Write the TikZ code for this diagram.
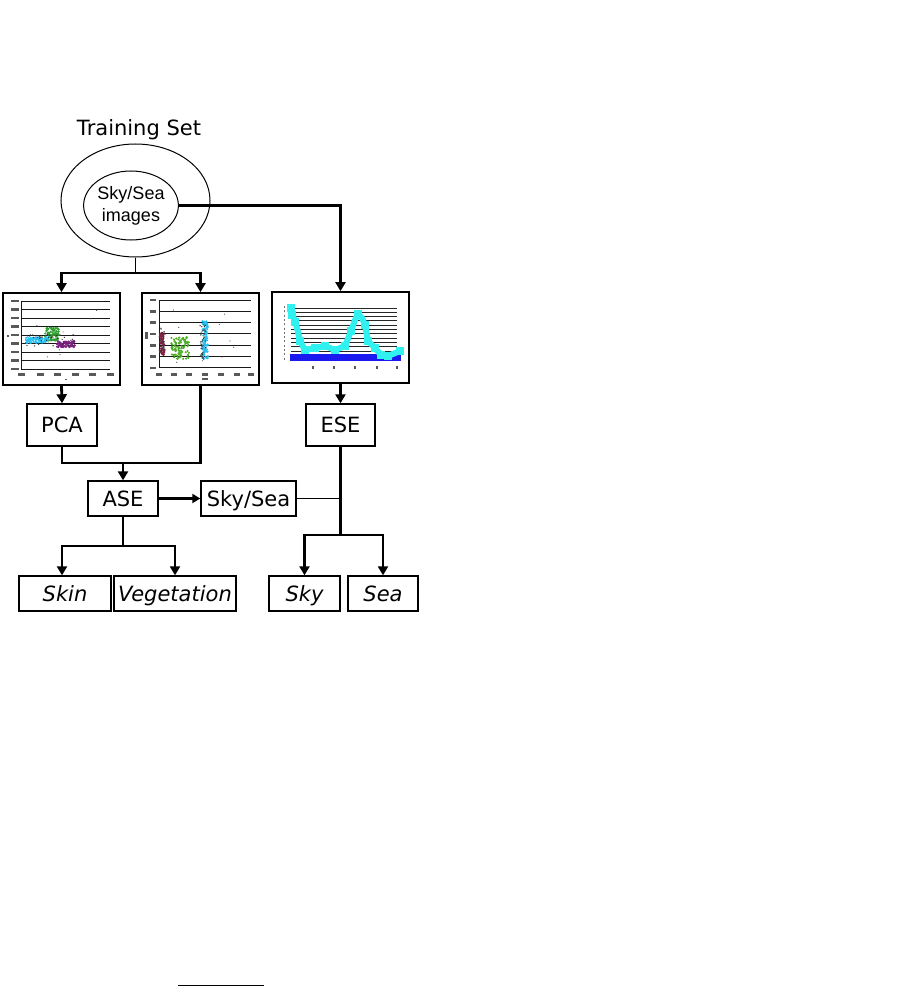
\documentclass[tikz,border=0pt]{standalone}
\usepackage{fontspec}
\setmainfont{DejaVu Sans}
\newfontfamily\arialfont{Liberation Sans}
\usetikzlibrary{arrows.meta,shapes.geometric}
\definecolor{cyanplot}{HTML}{30F0F0}
\definecolor{blueplot}{HTML}{1A1AF0}
\definecolor{greenplot}{HTML}{2E9E2E}
\definecolor{purpleplot}{HTML}{7A2080}
\definecolor{maroonplot}{HTML}{802040}
\tikzset{
  box/.style={draw, line width=1.4pt, rectangle, inner sep=0pt, text height=15pt, text depth=0pt,
              font=\fontsize{21}{25}\selectfont},
  itbox/.style={box, font=\fontsize{21}{25}\selectfont\itshape},
  chartbox/.style={draw, line width=1.7pt, rectangle, inner sep=0pt},
  thk/.style={line width=2.8pt},
  thn/.style={line width=1pt},
  arr/.style={-{Triangle[width=10pt,length=9pt]}},
  gridln/.style={line width=1pt, black!90},
  dot/.style={},
}
\begin{document}
\begin{tikzpicture}[x=1pt,y=-1pt]
\useasboundingbox (0,0) rectangle (915,987);
\fill[white] (0,0) rectangle (915,987);

% title and ellipses
\node[font=\fontsize{21}{25}\selectfont] (title) at (139,130) {Training Set};
\node[ellipse, draw, thn, minimum width=149pt, minimum height=113pt, inner sep=0pt] (outer) at (135.5,200.5) {};
\node[ellipse, draw, thn, minimum width=86pt, minimum height=69pt, inner sep=0pt, align=center,
      font=\arialfont\fontsize{18}{22}\selectfont] (inner) at (131,205.5) {Sky/Sea\\images};

% chart boxes
\node[chartbox, minimum width=117pt, minimum height=92pt] (chartA) at (61.5,339) {};
\node[chartbox, minimum width=117pt, minimum height=92pt] (chartB) at (200.5,339) {};
\node[chartbox, minimum width=137pt, minimum height=91pt] (chartC) at (340.5,337.5) {};

% text boxes
\node[box, minimum width=70pt, minimum height=42pt] (PCA) at (62,425) {PCA};
\node[box, minimum width=69pt, minimum height=42pt] (ESE) at (340.5,425) {ESE};
\node[box, minimum width=70pt, minimum height=35pt] (ASE) at (123,498.5) {ASE};
\node[box, minimum width=95pt, minimum height=35pt] (SS) at (248.5,498.5) {Sky/Sea};
\node[itbox, minimum width=92pt, minimum height=35pt] (Skin) at (65,593.5) {Skin};
\node[itbox, minimum width=122pt, minimum height=35pt] (Veg) at (175,593.5) {Vegetation};
\node[itbox, minimum width=71pt, minimum height=35pt] (Sky) at (304.5,593.5) {Sky};
\node[itbox, minimum width=70pt, minimum height=35pt] (Sea) at (383,593.5) {Sea};

% ---------- chart A contents ----------
\foreach \k in {0,...,8} {\draw[gridln] (21,{301+\k*8.5}) -- (110,{301+\k*8.5});
  \fill[black!65] (11,{301+\k*8.5-1.2}) rectangle (19,{301+\k*8.5+1.2});}
\draw[gridln] (21,301) -- (21,369);
\foreach \x in {21,40,57,75,92,110} {\fill[black!65] (\x-3.5,373) rectangle (\x+3.5,375.5);}
\fill[black!65] (65,378.5) rectangle (67,380);
\fill[black!65] (7,335) rectangle (9,336.5);
\pgfmathsetseed{17}
\foreach \i in {1,...,90} {\fill[greenplot] ({52+7*rand},{334+6.5*rand}) circle (1.2);}
\foreach \i in {1,...,80} {\fill[cyanplot!80!blue] ({37+12*rand},{340+3*rand}) circle (1.2);}
\foreach \i in {1,...,70} {\fill[purpleplot] ({66+9*rand},{344+3.2*rand}) circle (1.2);}
\foreach \i in {1,...,40} {\fill[black!80] ({50+25*rand},{340+6*rand}) circle (0.7);}
\foreach \i in {1,...,8} {\fill[black!70] ({65+40*rand},{335+25*rand}) circle (0.6);}

% ---------- chart B contents ----------
\foreach \k in {0,...,6} {\draw[gridln] (159,{300+\k*11.33}) -- (251,{300+\k*11.33});
  \fill[black!65] (150,{300+\k*11.33-1.2}) rectangle (156,{300+\k*11.33+1.2});}
\draw[gridln] (159,300) -- (159,368);
\foreach \x in {159,174,189,205,221,237,251} {\fill[black!65] (\x-3,373) rectangle (\x+3,375.5);}
\fill[black!65] (202,378) rectangle (208,380);
\fill[black!65] (145,332) rectangle (147.5,339);
\pgfmathsetseed{29}
\foreach \i in {1,...,60} {\fill[maroonplot] ({162+2.5*rand},{344+11*rand}) circle (1.2);}
\foreach \i in {1,...,90} {\fill[greenplot!85!yellow] ({180+9*rand},{348+11*rand}) circle (1.2);}
\foreach \i in {1,...,90} {\fill[cyanplot!80!blue] ({205+2.8*rand},{340+19*rand}) circle (1.2);}
\foreach \i in {1,...,40} {\fill[black!80] ({203+3*rand},{342+17*rand}) circle (0.7);}
\foreach \i in {1,...,20} {\fill[black!80] ({162+3*rand},{340+12*rand}) circle (0.7);}
\foreach \i in {1,...,10} {\fill[black!70] ({205+45*rand},{335+30*rand}) circle (0.6);}

% ---------- chart C contents ----------
\foreach \k in {0,...,12} {\draw[line width=0.9pt, black!85] (291,{308+\k*4.3}) -- (397,{308+\k*4.3});}
\foreach \k in {0,...,12} {\fill[black!55] (283.5,{306+\k*4.3}) rectangle (285,{308+\k*4.3});}
\fill[blueplot] (290,354) rectangle (401,361);
\draw[cyanplot, line width=6pt, line join=round]
  (291,308) -- (292,314) -- (295,321) -- (298,332) -- (300,341) -- (305,350) -- (315,348)
  -- (325,346) -- (335,350) -- (345,346) -- (351,331) -- (355,320) -- (358,314) -- (362,318)
  -- (365,325) -- (368,341) -- (375,348) -- (381,355) -- (388,356) -- (400,351);
\foreach \p in {(291,308),(292,315),(295,322),(300,341),(305,350),(315,348),(325,346),(335,350),(345,346),
  (351,331),(358,314),(365,325),(368,341),(375,348),(381,355),(388,356),(400,351)}
  {\fill[cyanplot] \p ++(-4,-4) rectangle ++(8,8);}
\foreach \x in {313,334,355,377,397} {\fill[black!65] (\x-0.8,366) rectangle (\x+0.8,368.5);}

% ---------- connectors ----------
\draw[thk, arr] (inner.east) -| (chartC.north);
\coordinate (s1) at (135.5,273);
\draw[thn] (outer.south) -- (s1);
\draw[thk, arr] (s1) -| (chartA.north);
\draw[thk, arr] (s1) -| (chartB.north);
\draw[thk, arr] (chartA.south) -- (PCA.north);
\draw[thk, arr] (chartC.south) -- (ESE.north);
\coordinate (m1) at (123,463);
\draw[thk] (PCA.south) |- (m1);
\draw[thk] (chartB.south) |- (m1);
\draw[thk, arr] (m1) -- (ASE.north);
\draw[line width=2.2pt, -{Triangle[width=9pt,length=8pt]}] (ASE.east) -- (SS.west);
\draw[thn] (SS.east) -- (340.5,498.5);
\coordinate (m2) at (340.5,535);
\draw[thk] (ESE.south) -- (m2);
\draw[thk, arr] (m2) -| (Sky.north);
\draw[thk, arr] (m2) -| (Sea.north);
\coordinate (m3) at (123,546);
\draw[thk] (ASE.south) -- (m3);
\draw[thk, arr] (m3) -| ([xshift=-3pt]Skin.north);
\draw[thk, arr] (m3) -| (Veg.north);

% footnote rule
\draw[line width=1pt] (178,985.5) -- (264,985.5);
\end{tikzpicture}
\end{document}
